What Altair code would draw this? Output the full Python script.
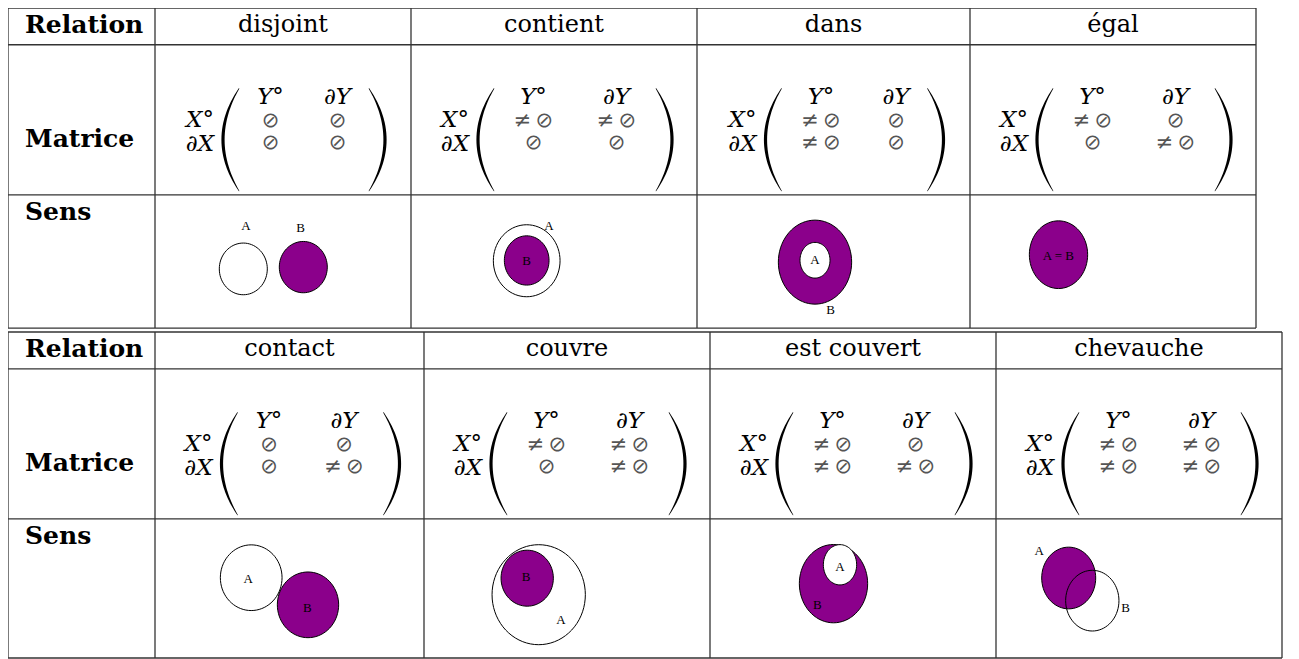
import math
import altair as alt
import pandas as pd

# ---------------- data ----------------
relations = ["disjoint", "contient", "dans", "égal",
             "contact", "couvre", "est couvert", "chevauche"]
table_of = [0, 0, 0, 0, 1, 1, 1, 1]
row_titles = ["Relation", "Matrice", "Sens"]
col_heads = ["Y°", "∂Y"]
row_heads = ["X°", "∂X"]
# 1 = non vide (≠ ∅), 0 = vide (∅)
m_int_int = [0, 1, 1, 1, 0, 1, 1, 1]   # X° ∩ Y°
m_int_bnd = [0, 1, 0, 0, 0, 1, 0, 1]   # X° ∩ ∂Y
m_bnd_int = [0, 0, 1, 0, 0, 0, 1, 1]   # ∂X ∩ Y°
m_bnd_bnd = [0, 0, 0, 1, 1, 1, 1, 1]   # ∂X ∩ ∂Y
sym_empty = "⊘"
sym_nonempty = "≠\u2009⊘"

# "Sens" diagrams: circles (offsets from the cell centre, widths/heights in px)
circle_rel = ["disjoint", "disjoint", "contient", "contient", "dans", "dans", "égal",
              "contact", "contact", "couvre", "couvre", "est couvert", "est couvert",
              "chevauche", "chevauche"]
circle_style = ["vide", "plein", "vide", "plein", "plein", "vide", "plein",
                "vide", "plein", "vide", "plein", "plein", "vide",
                "plein", "contour"]
circle_dx = [-39.7, 20.3, -27.3, -27.3, -18.5, -18.5, -54.5,
             -38.3, 18.5, -28.3, -39.8, -19.5, -13.0, -70.3, -46.7]
circle_dy = [7.5, 5.7, -0.7, -1.0, 0.7, -1.2, -6.8,
             -10.8, 16.5, 6.3, -10.3, -4.8, -23.8, -10.5, 12.3]
circle_w = [48, 48, 66.7, 44.7, 73.3, 30, 58.3,
            61.7, 61.3, 93.3, 52.3, 68.3, 33.3, 54, 53.3]
circle_h = [51.7, 51.3, 72, 49.3, 84, 35.7, 67.7,
            65.7, 65.7, 100, 56, 78.3, 40.3, 61.7, 60.7]

label_rel = ["disjoint", "disjoint", "contient", "contient", "dans", "dans", "égal",
             "contact", "contact", "couvre", "couvre", "est couvert", "est couvert",
             "chevauche", "chevauche"]
label_text = ["A", "B", "A", "B", "A", "B", "A = B",
              "A", "B", "A", "B", "A", "B", "A", "B"]
label_dx = [-37, 17.7, -5, -27.3, -18.5, -2.8, -54.7,
            -41.2, 17.8, -6, -41, -13, -35.7, -99.7, -13.3]
label_dy = [-36, -34, -36, -0.7, -1.3, 48.7, -5.7,
            -9.7, 19.7, 32, -11.3, -22, 16.3, -37.3, 19.7]

# ---------------- layout (pixels) ----------------
TABLE_X = [[8, 155, 411, 697, 970, 1256], [8, 155, 424, 710, 996, 1282]]
TABLE_Y = [[4, 41, 192, 326], [330, 367, 518, 658]]
X0, X1, Y0, Y1 = 8, 1291, 4, 659
W, H = X1 - X0, 651
PURPLE = "#8B008B"
SERIF = "DejaVu Serif"
LABEL_SERIF = "Liberation Serif"


def cell(i, row):
    t = table_of[i]
    c = i % 4
    return TABLE_X[t][c + 1], TABLE_X[t][c + 2], TABLE_Y[t][row], TABLE_Y[t][row + 1]


# grid
grid = []
for t in range(2):
    xs_, ys_ = TABLE_X[t], TABLE_Y[t]
    for yv in ys_:
        grid.append(dict(x=xs_[0], x2=xs_[-1], y=yv, y2=yv))
    for xv in xs_:
        grid.append(dict(x=xv, x2=xv, y=ys_[0], y2=ys_[-1]))
grid_df = pd.DataFrame(grid)

# bold row titles
bold_rows = []
title_off = [25, 103, 25]
for t in range(2):
    for r, ttl in enumerate(row_titles):
        bold_rows.append(dict(x=25, y=TABLE_Y[t][r] + title_off[r], text=ttl))
bold_df = pd.DataFrame(bold_rows)

# relation names
head_rows = []
for i, rel in enumerate(relations):
    L, R, T, B = cell(i, 0)
    head_rows.append(dict(x=(L + R) / 2, y=T + 24, text=rel))
head_df = pd.DataFrame(head_rows)

# matrices
XLAB_W, GAP1, PAREN_W, PAD, COLGAP = 40, 2, 18, 13, 32
W_NARROW, W_WIDE = 35, 51
ital, syms, paren = [], [], []
pid = 0
NSAMP = 31
for i, rel in enumerate(relations):
    L, R, T, B = cell(i, 1)
    cx = (L + R) / 2
    ent = [[m_int_int[i], m_int_bnd[i]], [m_bnd_int[i], m_bnd_bnd[i]]]
    w1 = W_WIDE if (ent[0][0] or ent[1][0]) else W_NARROW
    w2 = W_WIDE if (ent[0][1] or ent[1][1]) else W_NARROW
    total = XLAB_W + GAP1 + 2 * PAREN_W + 2 * PAD + w1 + COLGAP + w2
    left = cx - total / 2
    xl = left + XLAB_W / 2
    pl0 = left + XLAB_W + GAP1
    pl1 = pl0 + PAREN_W
    c1 = pl1 + PAD + w1 / 2
    c2 = c1 + w1 / 2 + COLGAP + w2 / 2
    pr0 = c2 + w2 / 2 + PAD
    pr1 = pr0 + PAREN_W
    ital.append(dict(x=xl, y=T + 83, text=row_heads[0]))
    ital.append(dict(x=xl, y=T + 107, text=row_heads[1]))
    ital.append(dict(x=c1, y=T + 60, text=col_heads[0]))
    ital.append(dict(x=c2, y=T + 60, text=col_heads[1]))
    for r in range(2):
        for c, cxx in enumerate([c1, c2]):
            syms.append(dict(x=cxx, y=T + 77 + 22 * r,
                             text=sym_nonempty if ent[r][c] else sym_empty))
    # parenthesis glyphs drawn as tapered strokes
    top, bot = T + 44, T + 147
    mid, half = (top + bot) / 2, (bot - top) / 2
    for (tip, sign) in [(pl1 - 1, -1), (pr0 + 1, 1)]:
        depth = PAREN_W - 2
        for k in range(NSAMP):
            s = -1 + 2 * k / (NSAMP - 1)
            f = 1 - s * s
            paren.append(dict(pid=pid, k=k, x=tip + sign * depth * f, y=mid + s * half,
                              w=0.6 + 2.6 * f))
        pid += 1
ital_df = pd.DataFrame(ital)
sym_df = pd.DataFrame(syms)
paren_df = pd.DataFrame(paren)


# circles
def ellipse_path(rx, ry, n=72):
    pts = ["%.4f,%.4f" % (rx * math.cos(2 * math.pi * k / n), ry * math.sin(2 * math.pi * k / n))
           for k in range(n)]
    return "M" + "L".join(pts) + "Z"


circ = []
for j, rel in enumerate(circle_rel):
    i = relations.index(rel)
    L, R, T, B = cell(i, 2)
    circ.append(dict(order=j, x=(L + R) / 2 + circle_dx[j], y=(T + B) / 2 + circle_dy[j],
                     size=circle_h[j] ** 2, path=ellipse_path(circle_w[j] / circle_h[j], 1.0),
                     style=circle_style[j]))
circ_df = pd.DataFrame(circ)

lab = []
for j, rel in enumerate(label_rel):
    i = relations.index(rel)
    L, R, T, B = cell(i, 2)
    lab.append(dict(x=(L + R) / 2 + label_dx[j], y=(T + B) / 2 + label_dy[j], text=label_text[j]))
lab_df = pd.DataFrame(lab)

# ---------------- chart ----------------
xs = alt.Scale(domain=[X0, X1], nice=False, zero=False)
ys = alt.Scale(domain=[Y0, Y1], nice=False, zero=False, reverse=True)


def XY(ch):
    return ch.encode(x=alt.X("x:Q", scale=xs, axis=None), y=alt.Y("y:Q", scale=ys, axis=None))


grid_layer = alt.Chart(grid_df).mark_rule(color="#333333", strokeWidth=1.3).encode(
    x=alt.X("x:Q", scale=xs, axis=None), x2="x2:Q",
    y=alt.Y("y:Q", scale=ys, axis=None), y2="y2:Q")

bold_layer = XY(alt.Chart(bold_df).mark_text(
    align="left", baseline="alphabetic", font=SERIF, fontSize=25, fontWeight="bold",
    color="black")).encode(text="text:N")

head_layer = XY(alt.Chart(head_df).mark_text(
    align="center", baseline="alphabetic", font=SERIF, fontSize=24, color="black")).encode(text="text:N")

ital_layer = XY(alt.Chart(ital_df).mark_text(
    align="center", baseline="alphabetic", font=SERIF, fontSize=23, fontStyle="italic",
    color="black")).encode(text="text:N")

sym_layer = XY(alt.Chart(sym_df).mark_text(
    align="center", baseline="middle", font="DejaVu Sans", fontSize=21, color="#555555")).encode(text="text:N")

paren_layer = XY(alt.Chart(paren_df).mark_trail(color="black")).encode(
    detail="pid:N", order="k:Q", size=alt.Size("w:Q", scale=None))

circle_layer = XY(alt.Chart(circ_df).mark_point(
    filled=True, opacity=1, stroke="black", strokeWidth=1, strokeOpacity=1)).encode(
    shape=alt.Shape("path:N", scale=None),
    size=alt.Size("size:Q", scale=None),
    fill=alt.Fill("style:N", scale=alt.Scale(domain=["plein", "vide", "contour"],
                                             range=[PURPLE, "#ffffff", "none"]), legend=None),
    order="order:Q")

lab_layer = XY(alt.Chart(lab_df).mark_text(
    align="center", baseline="middle", font=LABEL_SERIF, fontSize=13, color="black")).encode(text="text:N")

chart = alt.layer(grid_layer, bold_layer, head_layer, ital_layer, sym_layer, paren_layer,
                  circle_layer, lab_layer).properties(
    width=W, height=H, padding=0, autosize="none", background="white"
).configure_view(stroke=None)

chart.save("out.html", embed_options={"renderer": "svg", "actions": False})
